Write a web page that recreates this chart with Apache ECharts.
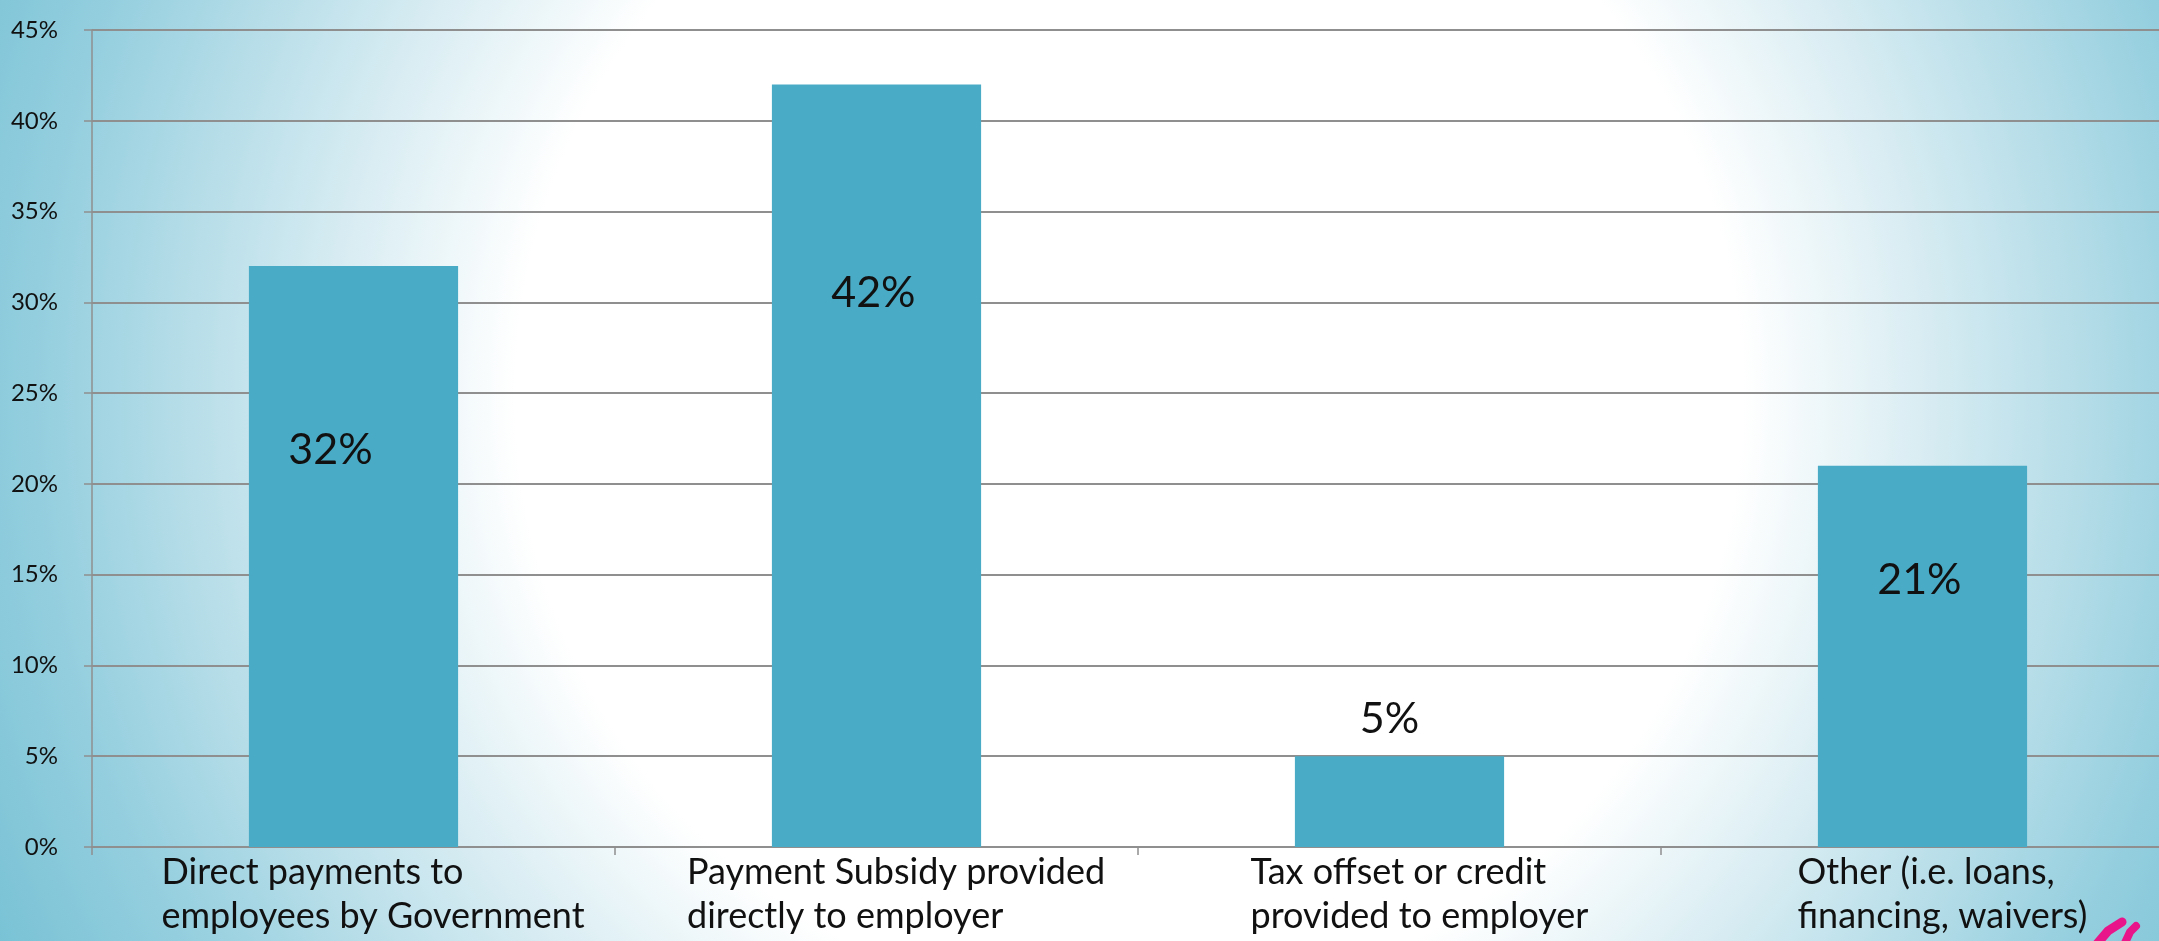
<!DOCTYPE html>
<html>
<head>
<meta charset="utf-8">
<script src="https://cdn.jsdelivr.net/npm/echarts@6/dist/echarts.min.js"></script>
<style>
  html, body { margin: 0; padding: 0; width: 2159px; height: 941px; overflow: hidden; }
  #chart { width: 2159px; height: 941px; }
</style>
</head>
<body>
<div id="chart"></div>
<script>
// ---- data ----
const categories = [
  'Direct payments to\nemployees by Government',
  'Payment Subsidy provided\ndirectly to employer',
  'Tax offset or credit\nprovided to employer',
  'Other (i.e. loans,\nfinancing, waivers)'
];
const values = [32, 42, 5, 21];
const yMin = 0;
const yMax = 45;
const yStep = 5;

// ---- styling ----
const FONT = 'Lato, "Open Sans", sans-serif';
const catFontSize = 36;
const measure = document.createElement('canvas').getContext('2d');
measure.font = catFontSize + 'px Lato';
const rich = { sp: { width: 42, align: 'left', fontSize: catFontSize, lineHeight: 44 } };
categories.forEach(function (c, i) {
  const w = Math.max.apply(null, c.split('\n').map(function (l) { return measure.measureText(l).width; }));
  rich['c' + i] = {
    width: Math.ceil(w) + 2, align: 'left', fontSize: catFontSize,
    fontFamily: FONT, lineHeight: 44, color: '#111'
  };
});

// label placement per bar (styling, not data)
const labelPlacement = [
  { position: ['39%', '31.7%'] },
  { position: ['48.5%', '27.3%'] },
  { position: 'top', distance: 37, offset: [-10, 0] },
  { position: ['48.5%', '30%'] }
];

const chart = echarts.init(document.getElementById('chart'), null, { renderer: 'canvas' });

const option = {
  animation: false,
  backgroundColor: 'transparent',
  graphic: [
    {
      type: 'rect', z: -100, silent: true,
      shape: { x: 0, y: 0, width: 2159, height: 941 },
      style: {
        fill: {
          type: 'radial', x: 0.523, y: 0.42, r: 1.34,
          colorStops: [
            { offset: 0, color: '#ffffff' },
            { offset: 0.487, color: '#ffffff' },
            { offset: 0.65, color: '#d3eaf1' },
            { offset: 0.87, color: '#93cede' },
            { offset: 1, color: '#78c2d5' }
          ]
        }
      }
    },
    {
      type: 'polyline', silent: true, z: 100,
      shape: { points: [[2096, 945], [2108, 931], [2122, 922]] },
      style: { stroke: '#e8158a', lineWidth: 9, lineCap: 'round', fill: null }
    },
    {
      type: 'polyline', silent: true, z: 100,
      shape: { points: [[2124, 945], [2130, 932], [2136, 926]] },
      style: { stroke: '#e8158a', lineWidth: 8, lineCap: 'round', fill: null }
    }
  ],
  grid: { left: 92, top: 30, width: 2092, height: 817, containLabel: false, outerBoundsMode: 'none' },
  xAxis: {
    type: 'category',
    data: categories,
    boundaryGap: true,
    axisLine: { show: true, lineStyle: { color: '#8f8f8f', width: 2 } },
    axisTick: { show: true, alignWithLabel: false, length: 8, lineStyle: { color: '#8f8f8f', width: 1.5 } },
    axisLabel: {
      interval: 0,
      margin: 3,
      align: 'center',
      verticalAlign: 'top',
      formatter: function (v, i) {
        return v.split('\n').map(function (l) { return '{sp| }{c' + i + '|' + l + '}'; }).join('\n');
      },
      rich: rich
    },
    splitLine: { show: false }
  },
  yAxis: {
    type: 'value',
    min: yMin, max: yMax, interval: yStep,
    axisLine: { show: true, lineStyle: { color: '#8f8f8f', width: 1.5 } },
    axisTick: { show: true, length: 8, lineStyle: { color: '#8f8f8f', width: 1.5 } },
    axisLabel: {
      margin: 34,
      fontSize: 24,
      fontFamily: FONT,
      color: '#111',
      padding: [0, 0, 16, 0],
      formatter: '{value}%'
    },
    splitLine: { show: true, lineStyle: { color: '#8f8f8f', width: 2 } }
  },
  series: [{
    type: 'bar',
    barWidth: '40%',
    itemStyle: { color: '#4aabc6' },
    data: values.map(function (v, i) {
      return {
        value: v,
        label: Object.assign({
          show: true,
          formatter: '{c}%',
          fontSize: 43,
          fontFamily: FONT,
          color: '#111',
          align: 'center',
          verticalAlign: 'middle'
        }, labelPlacement[i])
      };
    })
  }]
};

chart.setOption(option);
</script>
</body>
</html>
